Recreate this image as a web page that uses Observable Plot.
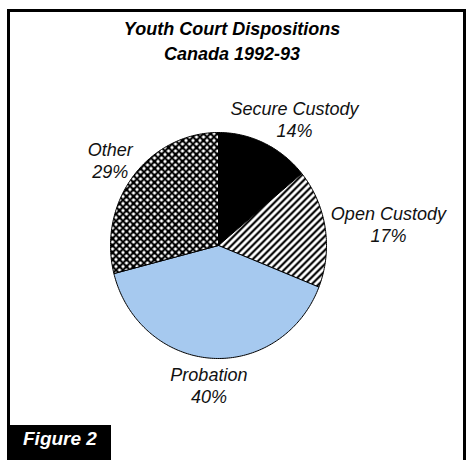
<!DOCTYPE html>
<html><head><meta charset="utf-8">
<script src="https://cdn.jsdelivr.net/npm/d3@7"></script>
<script src="https://cdn.jsdelivr.net/npm/@observablehq/plot@0.6"></script>
<style>
html,body{margin:0;padding:0;background:#fff;overflow:hidden}
#wrap{position:relative;width:466px;height:460px;overflow:hidden;font-family:"Liberation Sans",Arial,sans-serif}
#frame{position:absolute;left:7px;top:9px;width:459px;height:470px;border:3px solid #000;box-sizing:border-box}
#title{position:absolute;left:0;top:17px;width:464px;text-align:center;font-weight:bold;font-style:italic;font-size:18px;line-height:25px;color:#000}
#fig{position:absolute;left:7px;top:425px;width:104px;height:40px;background:#000;color:#fff;font-weight:bold;font-style:italic;font-size:19px;line-height:20px;padding:4px 0 0 16px;box-sizing:border-box}
#chart{position:absolute;left:0;top:0}
</style></head><body>
<div id="wrap"><div id="frame"></div><div id="title">Youth Court Dispositions<br>Canada 1992-93</div><div id="chart"></div><div id="fig">Figure 2</div></div>
<script>
const categories = ["Secure Custody", "Open Custody", "Probation", "Other"];
const percents = [14, 17, 40, 29];
const fills = ["#000000", "url(#diagStripes)", "#a6c9ef", "url(#crossHatch)"];

const total = d3.sum(percents);
let acc = 0;
const slices = categories.map((name, i) => {
  const a0 = acc / total * 2 * Math.PI;
  acc += percents[i];
  const a1 = acc / total * 2 * Math.PI;
  return {name, value: percents[i], a0, a1, mid: (a0 + a1) / 2};
});
const pts = slices.flatMap(s => {
  const n = Math.max(2, Math.ceil((s.a1 - s.a0) / (Math.PI / 180)));
  const arr = [{name: s.name, x: 0, y: 0}];
  for (let k = 0; k <= n; k++) {
    const a = s.a0 + (s.a1 - s.a0) * k / n;
    arr.push({name: s.name, x: Math.sin(a), y: Math.cos(a)});
  }
  arr.push({name: s.name, x: 0, y: 0});
  return arr;
});

const W = 466, H = 460, mL = 110, mR = 140, mT = 132, mB = 102;
const rx = (W - mL - mR) / 2, ry = (H - mT - mB) / 2;
const ctx = document.createElement("canvas").getContext("2d");
ctx.font = "italic 18px 'Liberation Sans', Arial, sans-serif";
const labels = slices.map(s => {
  const lines = [s.name, s.value + "%"];
  const halfW = d3.max(lines, l => ctx.measureText(l).width) / 2;
  const halfH = 20;
  const sx = Math.sin(s.mid), sy = Math.cos(s.mid);
  return {
    text: lines.join("\n"),
    x: 1.06 * sx + sx * halfW / rx,
    y: 1.06 * sy + sy * halfH / ry
  };
});

const svg = Plot.plot({
  width: W, height: H,
  marginLeft: mL, marginRight: mR, marginTop: mT, marginBottom: mB,
  x: {domain: [-1, 1], axis: null},
  y: {domain: [-1, 1], axis: null},
  color: {type: "ordinal", domain: categories, range: fills},
  style: {background: "transparent", overflow: "visible", fontFamily: "'Liberation Sans', Arial, sans-serif"},
  marks: [
    Plot.line(pts, {x: "x", y: "y", z: "name", fill: "name", stroke: "#000", strokeWidth: 1, strokeLinejoin: "round"}),
    Plot.text(labels, {x: "x", y: "y", text: "text", fontSize: 18, fontStyle: "italic", lineHeight: 1.22, fill: "#111"})
  ]
});
svg.insertAdjacentHTML("afterbegin",
  '<defs>' +
  '<pattern id="diagStripes" patternUnits="userSpaceOnUse" width="7" height="7">' +
  '<rect width="7" height="7" fill="#fff"/>' +
  '<path d="M-1,1 L1,-1 M0,7 L7,0 M6,8 L8,6" stroke="#000" stroke-width="2.6" shape-rendering="crispEdges"/></pattern>' +
  '<pattern id="crossHatch" patternUnits="userSpaceOnUse" width="7" height="7">' +
  '<rect width="7" height="7" fill="#fff"/>' +
  '<path d="M0,0 L7,7 M7,0 L0,7" stroke="#000" stroke-width="1.9" stroke-linecap="square" shape-rendering="crispEdges"/></pattern>' +
  '</defs>');
document.getElementById("chart").appendChild(svg);
</script>
</body></html>
